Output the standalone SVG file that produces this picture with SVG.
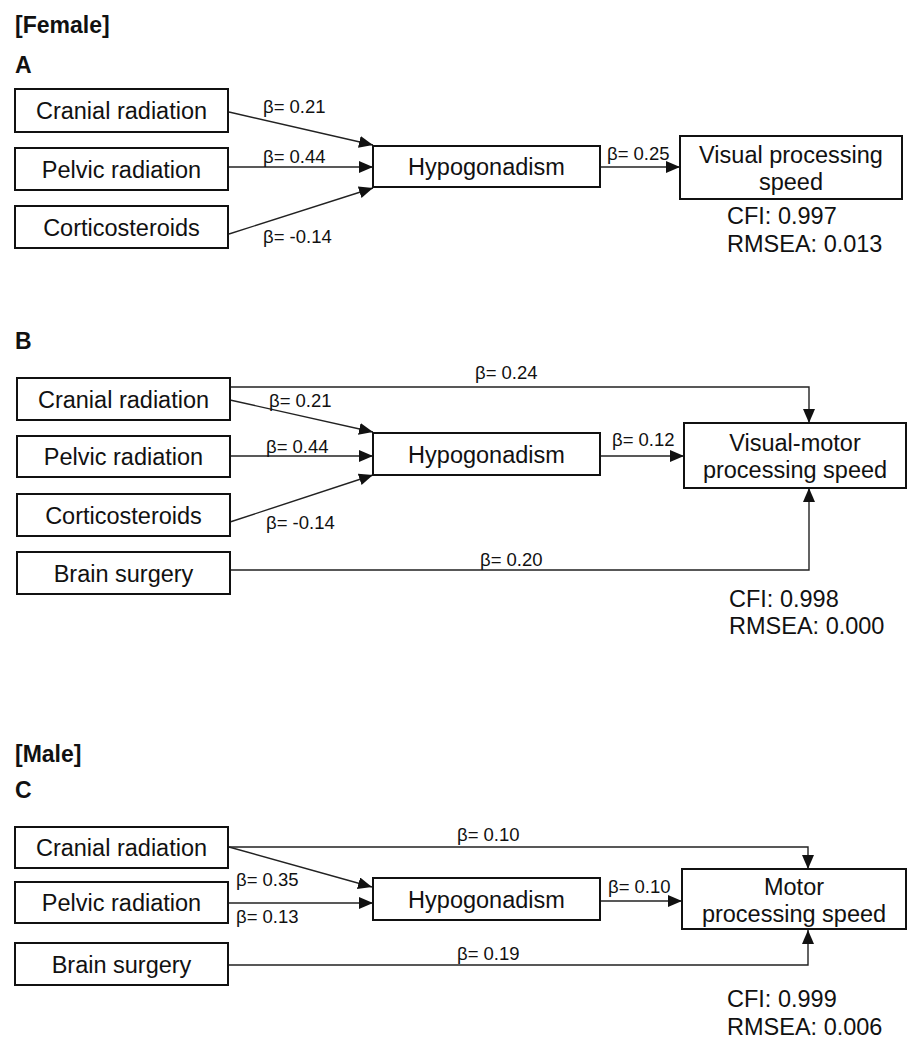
<svg xmlns="http://www.w3.org/2000/svg" width="918" height="1050" viewBox="0 0 918 1050">
<style>
.bg{fill:#fff}
.box{fill:#fff;stroke:#111;stroke-width:2}
.nt{font-family:"Liberation Sans",Arial,sans-serif;font-size:23.5px;fill:#111;text-anchor:middle}
.lb{font-family:"Liberation Sans",Arial,sans-serif;font-size:18.5px;fill:#111}
.fit{font-family:"Liberation Sans",Arial,sans-serif;font-size:23.5px;fill:#111}
.hd{font-family:"Liberation Sans",Arial,sans-serif;font-size:23px;font-weight:bold;fill:#111}
.cn{fill:none;stroke:#222;stroke-width:1.4}
.ar{marker-end:url(#ah)}
</style>
<defs>
<marker id="ah" markerUnits="userSpaceOnUse" markerWidth="15" markerHeight="13" refX="14" refY="6" orient="auto">
<path d="M0,0 L14,6 L0,12 z" fill="#111"/>
</marker>
</defs>
<rect class="bg" x="0" y="0" width="918" height="1050"/>

<!-- Panel A -->
<text class="hd" x="15" y="33">[Female]</text>
<text class="hd" x="15" y="73">A</text>
<g id="connectors-A">
<line class="cn ar" x1="229" y1="112" x2="373" y2="145"/>
<line class="cn ar" x1="229" y1="167" x2="373" y2="167"/>
<line class="cn ar" x1="229" y1="234" x2="373" y2="188"/>
<line class="cn ar" x1="600" y1="167" x2="680" y2="167"/>
<text class="lb" x="263" y="113">β= 0.21</text>
<text class="lb" x="263" y="163">β= 0.44</text>
<text class="lb" x="263" y="243">β= -0.14</text>
<text class="lb" x="607" y="160">β= 0.25</text>
</g>
<g id="A-cranial"><rect class="box" x="15" y="89" width="213" height="43"/><text class="nt" x="121.5" y="119">Cranial radiation</text></g>
<g id="A-pelvic"><rect class="box" x="15" y="148" width="213" height="42"/><text class="nt" x="121.5" y="177.5">Pelvic radiation</text></g>
<g id="A-cortico"><rect class="box" x="15" y="206" width="213" height="42"/><text class="nt" x="121.5" y="235.5">Corticosteroids</text></g>
<g id="A-hypo"><rect class="box" x="373" y="146" width="227" height="41"/><text class="nt" x="486.5" y="175">Hypogonadism</text></g>
<g id="A-outcome"><rect class="box" x="680" y="136" width="222" height="63"/><text class="nt" x="791" y="163">Visual processing</text><text class="nt" x="791" y="190">speed</text></g>
<g id="A-fit"><text class="fit" x="727" y="224">CFI: 0.997</text><text class="fit" x="727" y="252">RMSEA: 0.013</text></g>

<!-- Panel B -->
<text class="hd" x="15" y="349">B</text>
<g id="connectors-B">
<polyline class="cn ar" points="230,387 809,387 809,423"/>
<line class="cn ar" x1="230" y1="400" x2="373" y2="432"/>
<line class="cn ar" x1="230" y1="456" x2="373" y2="456"/>
<line class="cn ar" x1="230" y1="522" x2="373" y2="475"/>
<polyline class="cn ar" points="230,570 809,570 809,488"/>
<line class="cn ar" x1="600" y1="456" x2="684" y2="456"/>
<text class="lb" x="475" y="379">β= 0.24</text>
<text class="lb" x="269" y="407">β= 0.21</text>
<text class="lb" x="266" y="453">β= 0.44</text>
<text class="lb" x="266" y="529">β= -0.14</text>
<text class="lb" x="480" y="566">β= 0.20</text>
<text class="lb" x="612" y="446">β= 0.12</text>
</g>
<g id="B-cranial"><rect class="box" x="17" y="378" width="213" height="42"/><text class="nt" x="123.5" y="407.5">Cranial radiation</text></g>
<g id="B-pelvic"><rect class="box" x="17" y="436" width="213" height="41"/><text class="nt" x="123.5" y="465">Pelvic radiation</text></g>
<g id="B-cortico"><rect class="box" x="17" y="494" width="213" height="42"/><text class="nt" x="123.5" y="523.5">Corticosteroids</text></g>
<g id="B-brain"><rect class="box" x="17" y="552" width="213" height="42"/><text class="nt" x="123.5" y="581.5">Brain surgery</text></g>
<g id="B-hypo"><rect class="box" x="373" y="433" width="227" height="42"/><text class="nt" x="486.5" y="462.5">Hypogonadism</text></g>
<g id="B-outcome"><rect class="box" x="684" y="423" width="222" height="65"/><text class="nt" x="795" y="451">Visual-motor</text><text class="nt" x="795" y="478">processing speed</text></g>
<g id="B-fit"><text class="fit" x="729" y="607">CFI: 0.998</text><text class="fit" x="729" y="634">RMSEA: 0.000</text></g>

<!-- Panel C -->
<text class="hd" x="15" y="762">[Male]</text>
<text class="hd" x="15" y="798">C</text>
<g id="connectors-C">
<polyline class="cn ar" points="229,847 808,847 808,869"/>
<line class="cn ar" x1="229" y1="847" x2="372" y2="887"/>
<line class="cn ar" x1="229" y1="903" x2="373" y2="903"/>
<polyline class="cn ar" points="229,965 808,965 808,930"/>
<line class="cn ar" x1="600" y1="901" x2="682" y2="901"/>
<text class="lb" x="457" y="841">β= 0.10</text>
<text class="lb" x="236" y="886">β= 0.35</text>
<text class="lb" x="236" y="923">β= 0.13</text>
<text class="lb" x="457" y="960">β= 0.19</text>
<text class="lb" x="608" y="893">β= 0.10</text>
</g>
<g id="C-cranial"><rect class="box" x="15" y="827" width="213" height="41"/><text class="nt" x="121.5" y="856">Cranial radiation</text></g>
<g id="C-pelvic"><rect class="box" x="15" y="882" width="213" height="41"/><text class="nt" x="121.5" y="911">Pelvic radiation</text></g>
<g id="C-brain"><rect class="box" x="15" y="943" width="213" height="42"/><text class="nt" x="121.5" y="972.5">Brain surgery</text></g>
<g id="C-hypo"><rect class="box" x="373" y="878" width="227" height="42"/><text class="nt" x="486.5" y="907.5">Hypogonadism</text></g>
<g id="C-outcome"><rect class="box" x="682" y="869" width="224" height="60"/><text class="nt" x="794" y="895">Motor</text><text class="nt" x="794" y="922">processing speed</text></g>
<g id="C-fit"><text class="fit" x="727" y="1007">CFI: 0.999</text><text class="fit" x="727" y="1035">RMSEA: 0.006</text></g>
</svg>
